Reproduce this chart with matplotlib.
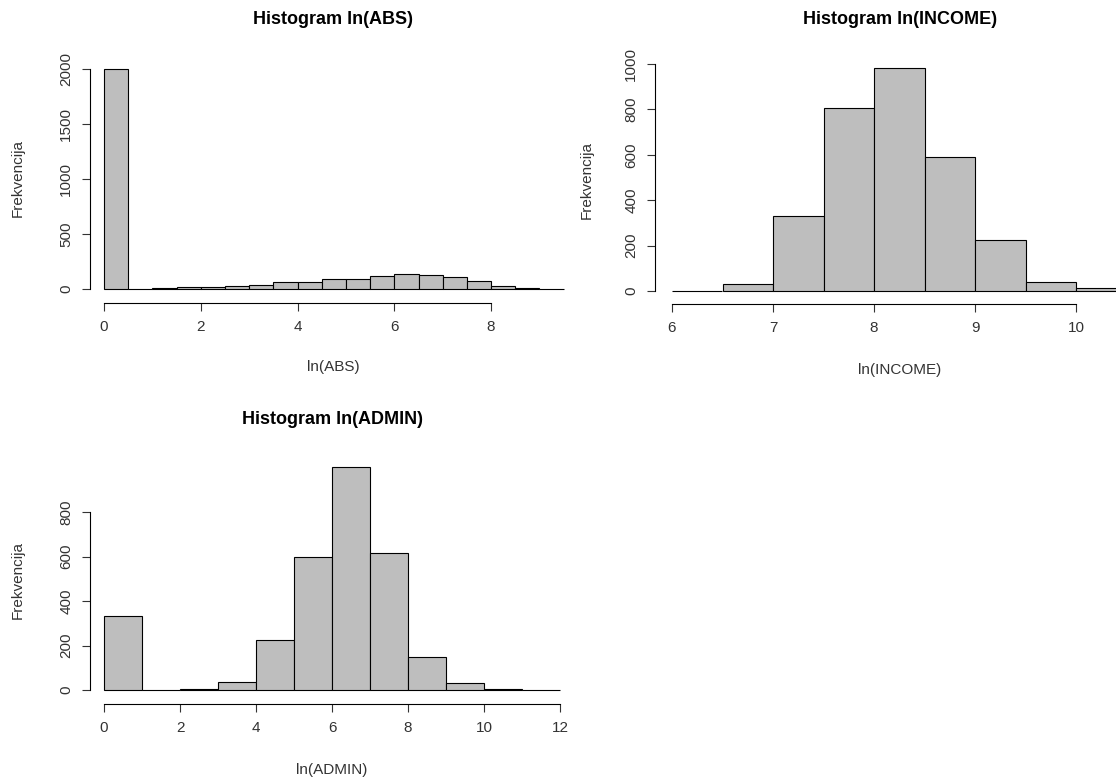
import numpy as np
import matplotlib.pyplot as plt

plt.rcParams['font.family'] = ['Liberation Sans', 'DejaVu Sans']

# ln(ABS): bins width 0.5 from 0 to 9.5
abs_edges = np.arange(0, 10.0, 0.5)
abs_counts = [2000, 0, 8, 18, 18, 27, 40, 64, 64, 90, 90, 118, 136, 127, 109, 73, 27, 8, 0]

# ln(INCOME): bins width 0.5 from 6 to 10.5
inc_edges = np.arange(6, 11.0, 0.5)
inc_counts = [2, 31, 330, 806, 982, 590, 225, 40, 12]

# ln(ADMIN): bins width 1 from 0 to 12
adm_edges = np.arange(0, 13, 1)
adm_counts = [333, 0, 5, 36, 225, 598, 1002, 616, 148, 31, 4, 0]

W, H = 1116, 778
fig = plt.figure(figsize=(W / 100, H / 100), dpi=100)
grey = '#333333'


def px_rect(l, r, t, b):
    return [l / W, 1 - b / H, (r - l) / W, (b - t) / H]


def rhist(rect, edges, counts, xlim, ylim, spx, spy, xticks, yticks):
    ax = fig.add_axes(rect)
    ax.bar(edges[:-1], counts, width=np.diff(edges), align='edge',
           color='#bebebe', edgecolor='black', linewidth=0.8)
    ax.set_xlim(*xlim)
    ax.set_ylim(*ylim)
    ax.set_xticks(xticks)
    ax.set_yticks(yticks)
    for s in ['top', 'right']:
        ax.spines[s].set_visible(False)
    ax.spines['left'].set_position(('data', spx))
    ax.spines['bottom'].set_position(('data', spy))
    ax.spines['bottom'].set_bounds(xticks[0], xticks[-1])
    ax.spines['left'].set_bounds(yticks[0], yticks[-1])
    ax.tick_params(labelsize=11, length=6, color=grey, labelcolor=grey, pad=6)
    ax.tick_params(axis='y', labelrotation=90)
    for lb in ax.get_yticklabels():
        lb.set_va('center')
    ax.patch.set_visible(False)
    return ax


rhist(px_rect(87.1, 583, 60.2, 305.5), abs_edges, abs_counts, (-0.35, 9.9), (-150, 2080),
      -0.29, -127, [0, 2, 4, 6, 8], [0, 500, 1000, 1500, 2000])
rhist(px_rect(651.8, 1146.7, 55, 306.9), inc_edges, inc_counts, (5.8, 10.7), (-70, 1040),
      5.83, -57, [6, 7, 8, 9, 10], [0, 200, 400, 600, 800, 1000])
rhist(px_rect(86.9, 579, 458.2, 706.7), adm_edges, adm_counts, (-0.45, 12.5), (-75, 1042),
      -0.37, -63, [0, 2, 4, 6, 8, 10, 12], [0, 200, 400, 600, 800])

titles = [('Histogram ln(ABS)', 333, 20), ('Histogram ln(INCOME)', 900, 20),
          ('Histogram ln(ADMIN)', 332, 420)]
for t, x, y in titles:
    fig.text(x / W, 1 - y / H, t, fontsize=13, fontweight='bold', ha='center', va='center')
xlabels = [('ln(ABS)', 333, 367), ('ln(INCOME)', 900, 370), ('ln(ADMIN)', 332, 770)]
for t, x, y in xlabels:
    fig.text(x / W, 1 - y / H, t, fontsize=11, color=grey, ha='center', va='center')
for x, y in [(18, 178), (587, 180), (18, 580)]:
    fig.text(x / W, 1 - y / H, 'Frekvencija', fontsize=11, color=grey, rotation=90,
             ha='center', va='center')

fig.savefig('out.png', dpi=100)
